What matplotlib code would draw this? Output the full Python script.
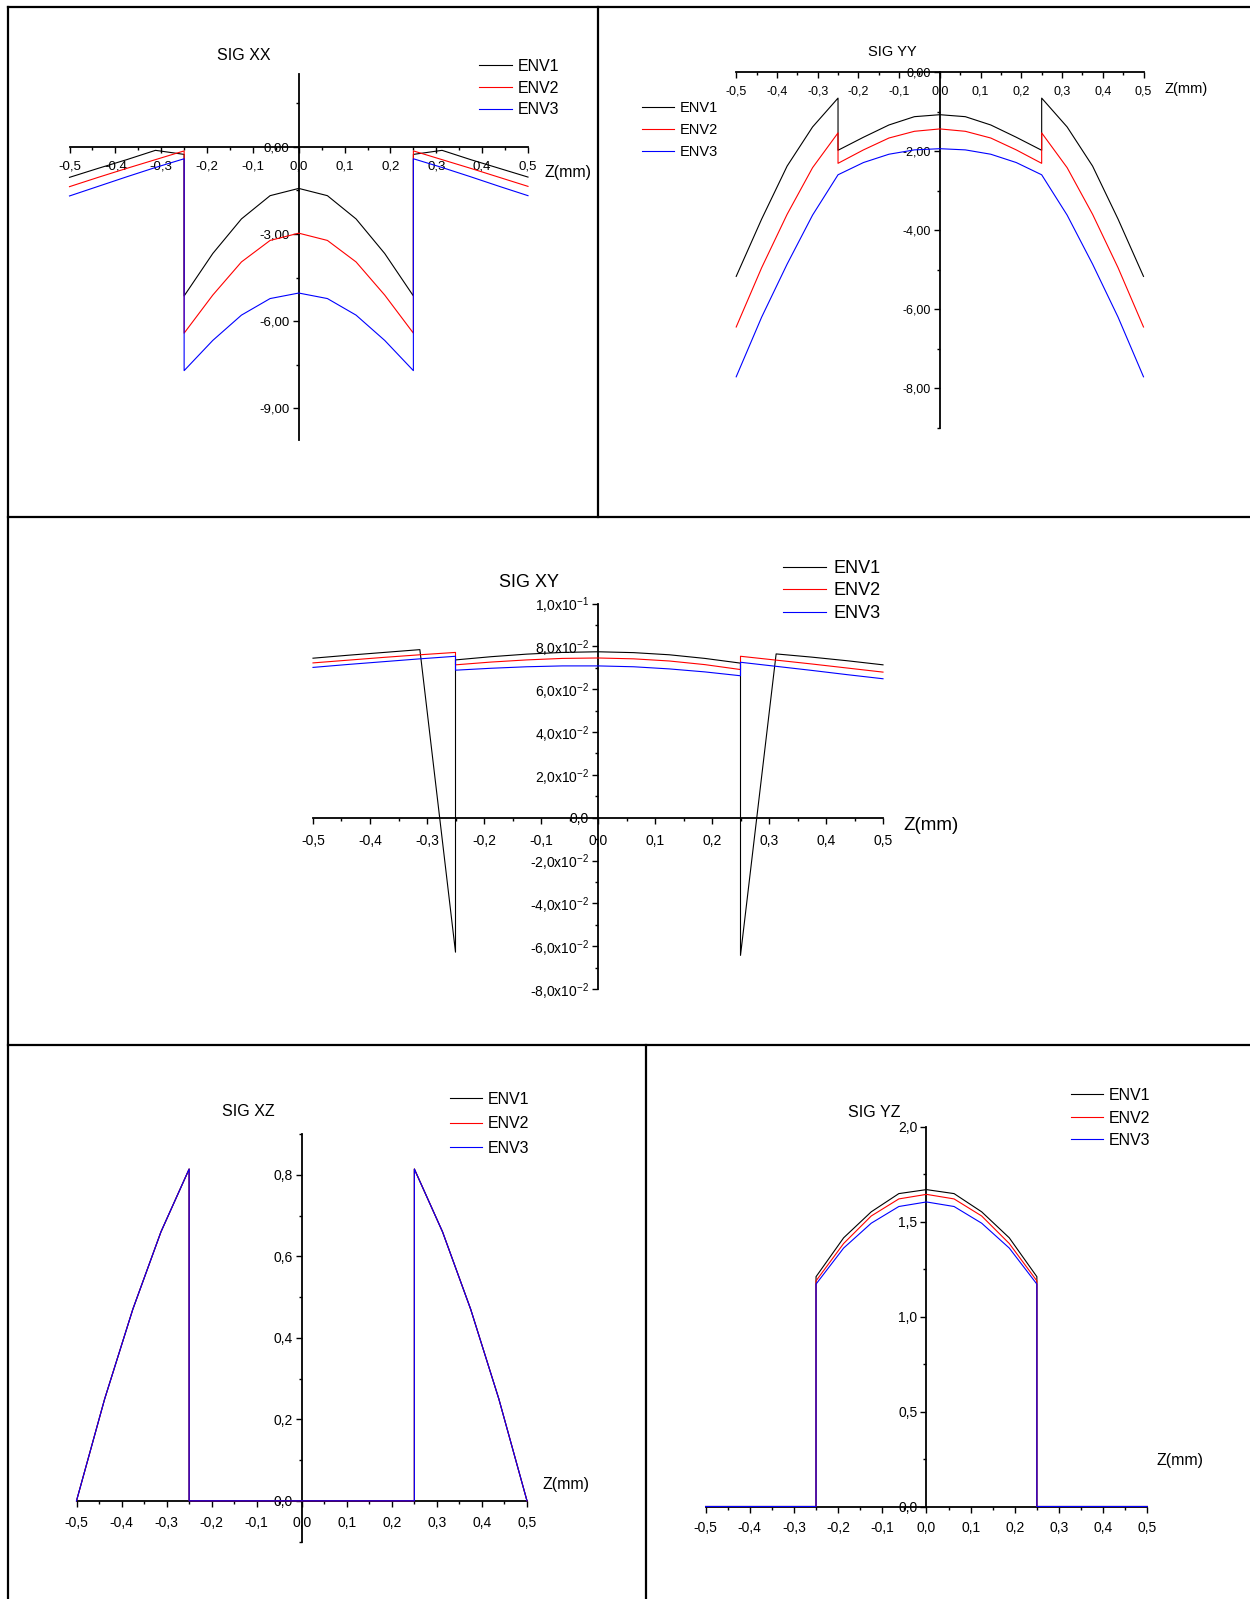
import matplotlib
matplotlib.use('Agg')
import matplotlib.pyplot as plt
from matplotlib.lines import Line2D
from matplotlib.ticker import MultipleLocator, FixedLocator, FixedFormatter

plt.rcParams['font.family'] = ['Liberation Sans', 'DejaVu Sans']
plt.rcParams['mathtext.fontset'] = 'custom'
plt.rcParams['mathtext.rm'] = 'Liberation Sans'
plt.rcParams['mathtext.it'] = 'Liberation Sans'
plt.rcParams['mathtext.bf'] = 'Liberation Sans'

W, H = 1250, 1599

# Z positions (mm) of the nodes, the interfaces at +-0.25 appear twice
z = [-0.5, -0.4375, -0.375, -0.3125, -0.25, -0.25, -0.1875, -0.125, -0.0625, 0.0,
     0.0625, 0.125, 0.1875, 0.25, 0.25, 0.3125, 0.375, 0.4375, 0.5]

z_ticks = [-0.5, -0.4, -0.3, -0.2, -0.1, 0.0, 0.1, 0.2, 0.3, 0.4, 0.5]
z_labels = ['-0,5', '-0,4', '-0,3', '-0,2', '-0,1', '0,0', '0,1', '0,2', '0,3', '0,4', '0,5']

# SIG XX
xx_env1 = [-1.05, -0.74, -0.44, -0.12, -0.26, -5.13, -3.67, -2.48, -1.68, -1.43,
           -1.68, -2.48, -3.67, -5.13, -0.26, -0.12, -0.44, -0.74, -1.04]
xx_env2 = [-1.37, -1.05, -0.74, -0.44, -0.14, -6.41, -5.10, -3.96, -3.22, -2.97,
           -3.22, -3.96, -5.10, -6.41, -0.14, -0.44, -0.74, -1.05, -1.36]
xx_env3 = [-1.69, -1.36, -1.03, -0.71, -0.41, -7.70, -6.66, -5.79, -5.22, -5.03,
           -5.22, -5.79, -6.66, -7.70, -0.41, -0.71, -1.03, -1.36, -1.68]
xx_yticks = [-9, -6, -3, 0]
xx_ylabels = ['-9,00', '-6,00', '-3,00', '0,00']

# SIG YY
yy_env1 = [-5.17, -3.72, -2.38, -1.39, -0.66, -1.98, -1.65, -1.34, -1.13, -1.08,
           -1.13, -1.34, -1.65, -1.98, -0.66, -1.39, -2.38, -3.72, -5.17]
yy_env2 = [-6.45, -4.95, -3.60, -2.42, -1.54, -2.31, -1.97, -1.67, -1.50, -1.44,
           -1.50, -1.67, -1.97, -2.31, -1.54, -2.42, -3.60, -4.95, -6.45]
yy_env3 = [-7.71, -6.20, -4.86, -3.62, -2.60, -2.60, -2.29, -2.08, -1.97, -1.94,
           -1.97, -2.08, -2.29, -2.60, -2.60, -3.62, -4.86, -6.20, -7.71]
yy_yticks = [-8, -6, -4, -2, 0]
yy_ylabels = ['-8,00', '-6,00', '-4,00', '-2,00', '0,00']

# SIG XY
xy_env1 = [0.0745, 0.0759, 0.0772, 0.0785, -0.0628, 0.0737, 0.0752, 0.0764, 0.0772, 0.0775,
           0.0771, 0.0761, 0.0744, 0.0722, -0.0643, 0.0765, 0.0750, 0.0733, 0.0714]
xy_env2 = [0.0723, 0.0736, 0.0749, 0.0761, 0.0772, 0.0714, 0.0727, 0.0737, 0.0744, 0.0746,
           0.0742, 0.0732, 0.0715, 0.0692, 0.0754, 0.0736, 0.0718, 0.0699, 0.0680]
xy_env3 = [0.0702, 0.0716, 0.0729, 0.0742, 0.0754, 0.0689, 0.0698, 0.0705, 0.0709, 0.0709,
           0.0705, 0.0695, 0.0681, 0.0663, 0.0726, 0.0707, 0.0688, 0.0668, 0.0649]
xy_yticks = [-0.08, -0.06, -0.04, -0.02, 0.0, 0.02, 0.04, 0.06, 0.08, 0.10]
xy_ylabels = ['-8,0x10$^{-2}$', '-6,0x10$^{-2}$', '-4,0x10$^{-2}$', '-2,0x10$^{-2}$', '0,0',
              '2,0x10$^{-2}$', '4,0x10$^{-2}$', '6,0x10$^{-2}$', '8,0x10$^{-2}$', '1,0x10$^{-1}$']

# SIG XZ
xz_env1 = [0.0, 0.25, 0.47, 0.66, 0.814, 0.0, 0.0, 0.0, 0.0, 0.0,
           0.0, 0.0, 0.0, 0.0, 0.814, 0.66, 0.47, 0.25, 0.0]
xz_env2 = [0.0, 0.25, 0.47, 0.66, 0.814, 0.0, 0.0, 0.0, 0.0, 0.0,
           0.0, 0.0, 0.0, 0.0, 0.814, 0.66, 0.47, 0.25, 0.0]
xz_env3 = [0.0, 0.25, 0.47, 0.66, 0.814, 0.0, 0.0, 0.0, 0.0, 0.0,
           0.0, 0.0, 0.0, 0.0, 0.814, 0.66, 0.47, 0.25, 0.0]
xz_yticks = [0.0, 0.2, 0.4, 0.6, 0.8]
xz_ylabels = ['0,0', '0,2', '0,4', '0,6', '0,8']

# SIG YZ
yz_env1 = [0.0, 0.0, 0.0, 0.0, 0.0, 1.211, 1.416, 1.553, 1.649, 1.670,
           1.649, 1.553, 1.416, 1.211, 0.0, 0.0, 0.0, 0.0, 0.0]
yz_env2 = [0.0, 0.0, 0.0, 0.0, 0.0, 1.189, 1.386, 1.531, 1.621, 1.645,
           1.621, 1.531, 1.386, 1.189, 0.0, 0.0, 0.0, 0.0, 0.0]
yz_env3 = [0.0, 0.0, 0.0, 0.0, 0.0, 1.172, 1.362, 1.493, 1.581, 1.605,
           1.581, 1.493, 1.362, 1.172, 0.0, 0.0, 0.0, 0.0, 0.0]
yz_yticks = [0.0, 0.5, 1.0, 1.5, 2.0]
yz_ylabels = ['0,0', '0,5', '1,0', '1,5', '2,0']

names = ['ENV1', 'ENV2', 'ENV3']
colors = ['black', '#ff0000', '#0000ff']

fig = plt.figure(figsize=(W / 100, H / 100), dpi=100)
fig.patch.set_facecolor('white')


def fig_line(x0, y0, x1, y1):
    fig.add_artist(Line2D([x0 / W, x1 / W], [1 - y0 / H, 1 - y1 / H],
                          transform=fig.transFigure, color='black', lw=1.6))


def fig_text(x, y, s, size):
    fig.text(x / W, 1 - y / H, s, fontsize=size, ha='center', va='center')


# cell frame
fig_line(8, 7, 1250, 7)
fig_line(8, 7, 8, 1599)
fig_line(8, 517, 1250, 517)
fig_line(8, 1044.5, 1250, 1044.5)
fig_line(597.5, 7, 597.5, 517)
fig_line(645.5, 1044.5, 645.5, 1599)


def make_panel(box, ylim, yticks, ylabels, yminor, series, tick_size, xpad):
    left, right, top, bottom = box
    ax = fig.add_axes([left / W, 1 - bottom / H, (right - left) / W, (bottom - top) / H])
    ax.patch.set_alpha(0)
    ax.set_xlim(-0.5, 0.5)
    ax.set_ylim(*ylim)
    for side in ('top', 'right'):
        ax.spines[side].set_visible(False)
    for side in ('left', 'bottom'):
        ax.spines[side].set_position(('data', 0))
        ax.spines[side].set_linewidth(1.3)
    ax.xaxis.set_major_locator(FixedLocator(z_ticks))
    ax.xaxis.set_major_formatter(FixedFormatter(z_labels))
    ax.xaxis.set_minor_locator(MultipleLocator(0.05))
    ax.yaxis.set_major_locator(FixedLocator(yticks))
    ax.yaxis.set_major_formatter(FixedFormatter(ylabels))
    ax.yaxis.set_minor_locator(MultipleLocator(yminor))
    ax.tick_params(which='major', length=4, width=1.0, labelsize=tick_size)
    ax.tick_params(which='minor', length=2.2, width=1.0)
    ax.tick_params(axis='x', which='major', pad=xpad)
    ax.tick_params(axis='y', which='major', pad=2.5)
    for vals, name, col in zip(series, names, colors):
        ax.plot(z, vals, color=col, lw=0.8, label=name, clip_on=False, zorder=3)
    return ax


def add_legend(ax, x, y, size, spacing, hlen):
    ax.legend(loc='upper left', bbox_to_anchor=(x / W, 1 - y / H), bbox_transform=fig.transFigure,
              frameon=False, fontsize=size, borderpad=0, borderaxespad=0,
              labelspacing=spacing, handlelength=hlen, handletextpad=0.4)


# SIG XX
ax1 = make_panel((69.5, 528, 73.6, 440.4), (-10.1, 2.52), xx_yticks, xx_ylabels, 1.5,
                 [xx_env1, xx_env2, xx_env3], 9.5, 6)
add_legend(ax1, 479, 59, 11.5, 0.42, 2.05)
fig_text(244, 55, 'SIG XX', 11.5)
fig_text(568, 172, 'Z(mm)', 11.5)

# SIG YY
ax2 = make_panel((736.2, 1143.5, 72, 427.8), (-9, 0), yy_yticks, yy_ylabels, 1,
                 [yy_env1, yy_env2, yy_env3], 9, 5.5)
add_legend(ax2, 642, 101.5, 10.5, 0.52, 2.2)
fig_text(892, 52, 'SIG YY', 10.5)
fig_text(1186, 89, 'Z(mm)', 10.5)

# SIG XY
ax3 = make_panel((313, 883, 603.6, 989), (-0.08, 0.10), xy_yticks, xy_ylabels, 0.01,
                 [xy_env1, xy_env2, xy_env3], 10, 7.5)
add_legend(ax3, 783, 560, 13, 0.3, 2.4)
fig_text(529, 582, 'SIG XY', 13)
fig_text(931, 826, 'Z(mm)', 13.5)

# SIG XZ
ax4 = make_panel((76.5, 527, 1134, 1541.6), (-0.1, 0.9), xz_yticks, xz_ylabels, 0.1,
                 [xz_env1, xz_env2, xz_env3], 10, 7)
add_legend(ax4, 449.6, 1092, 11.5, 0.58, 2.0)
fig_text(248, 1111, 'SIG XZ', 11.5)
fig_text(566, 1484.5, 'Z(mm)', 11.5)

# SIG YZ
ax5 = make_panel((705.6, 1147.3, 1127, 1506.5), (0, 2.0), yz_yticks, yz_ylabels, 0.25,
                 [yz_env1, yz_env2, yz_env3], 10, 6.5)
add_legend(ax5, 1070.6, 1088, 11.5, 0.47, 2.0)
fig_text(874, 1112.5, 'SIG YZ', 11.5)
fig_text(1180, 1460, 'Z(mm)', 11.5)

fig.savefig('out.png', dpi=100, facecolor='white')
